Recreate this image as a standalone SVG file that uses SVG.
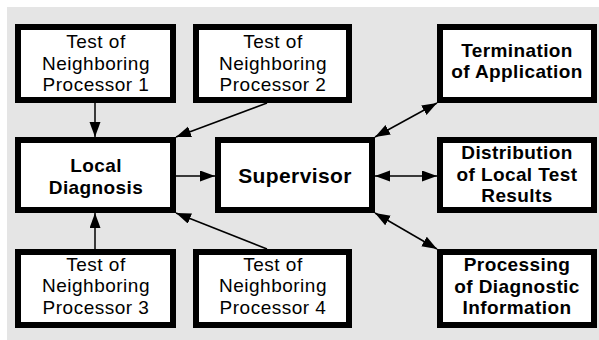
<svg xmlns="http://www.w3.org/2000/svg" width="599" height="340" viewBox="0 0 599 340">
<style>
.box{fill:#fff;stroke:#000;stroke-width:6}
.t{font-family:"Liberation Sans",Arial,sans-serif;font-size:19px;letter-spacing:0.5px;text-anchor:middle;fill:#000}
.b{font-family:"Liberation Sans",Arial,sans-serif;font-size:19px;letter-spacing:0.4px;font-weight:bold;text-anchor:middle;fill:#000}
.c{stroke:#000;stroke-width:1.5;fill:none}
</style>
<defs>
<marker id="ah" markerUnits="userSpaceOnUse" markerWidth="16" markerHeight="12" refX="15" refY="5.5" orient="auto-start-reverse">
<path d="M0,0 L15,5.5 L0,11 z" fill="#000"/>
</marker>
</defs>
<rect x="7" y="7" width="592" height="333" fill="#e5e5e5"/>
<g id="connectors">
<line class="c" x1="95" y1="103" x2="95" y2="137" marker-end="url(#ah)"/>
<line class="c" x1="267" y1="103" x2="176" y2="137" marker-end="url(#ah)"/>
<line class="c" x1="95" y1="249" x2="95" y2="213" marker-end="url(#ah)"/>
<line class="c" x1="267" y1="249" x2="176" y2="213" marker-end="url(#ah)"/>
<line class="c" x1="176" y1="176" x2="215" y2="176" marker-end="url(#ah)"/>
<line class="c" x1="375" y1="137" x2="437" y2="103" marker-start="url(#ah)" marker-end="url(#ah)"/>
<line class="c" x1="375" y1="176" x2="437" y2="176" marker-start="url(#ah)" marker-end="url(#ah)"/>
<line class="c" x1="375" y1="213" x2="437" y2="249" marker-start="url(#ah)" marker-end="url(#ah)"/>
</g>
<g id="np1">
<rect class="box" x="18" y="27" width="155" height="73"/>
<text class="t" x="96" y="48"><tspan x="96">Test of</tspan><tspan x="96" dy="21.5">Neighboring</tspan><tspan x="96" dy="21.5">Processor 1</tspan></text>
</g>
<g id="np2">
<rect class="box" x="196" y="27" width="153" height="73"/>
<text class="t" x="273" y="48"><tspan x="273">Test of</tspan><tspan x="273" dy="21.5">Neighboring</tspan><tspan x="273" dy="21.5">Processor 2</tspan></text>
</g>
<g id="local">
<rect class="box" x="18" y="140" width="155" height="70"/>
<text class="b" x="96" y="172"><tspan x="96">Local</tspan><tspan x="96" dy="21.5">Diagnosis</tspan></text>
</g>
<g id="supervisor">
<rect class="box" x="218" y="140" width="154" height="70"/>
<text class="b" x="295" y="183" style="font-size:21px">Supervisor</text>
</g>
<g id="np3">
<rect class="box" x="18" y="252" width="155" height="73"/>
<text class="t" x="96" y="270.5"><tspan x="96">Test of</tspan><tspan x="96" dy="21.5">Neighboring</tspan><tspan x="96" dy="21.5">Processor 3</tspan></text>
</g>
<g id="np4">
<rect class="box" x="196" y="252" width="153" height="73"/>
<text class="t" x="273" y="270.5"><tspan x="273">Test of</tspan><tspan x="273" dy="21.5">Neighboring</tspan><tspan x="273" dy="21.5">Processor 4</tspan></text>
</g>
<g id="termination">
<rect class="box" x="440" y="27" width="154" height="73"/>
<text class="b" x="517" y="56.5"><tspan x="517">Termination</tspan><tspan x="517" dy="21.5">of Application</tspan></text>
</g>
<g id="distribution">
<rect class="box" x="440" y="140" width="154" height="70"/>
<text class="b" x="517" y="159"><tspan x="517">Distribution</tspan><tspan x="517" dy="21.5">of Local Test</tspan><tspan x="517" dy="21.5">Results</tspan></text>
</g>
<g id="processing">
<rect class="box" x="440" y="252" width="154" height="73"/>
<text class="b" x="517" y="271"><tspan x="517">Processing</tspan><tspan x="517" dy="21.5">of Diagnostic</tspan><tspan x="517" dy="21.5">Information</tspan></text>
</g>
</svg>
